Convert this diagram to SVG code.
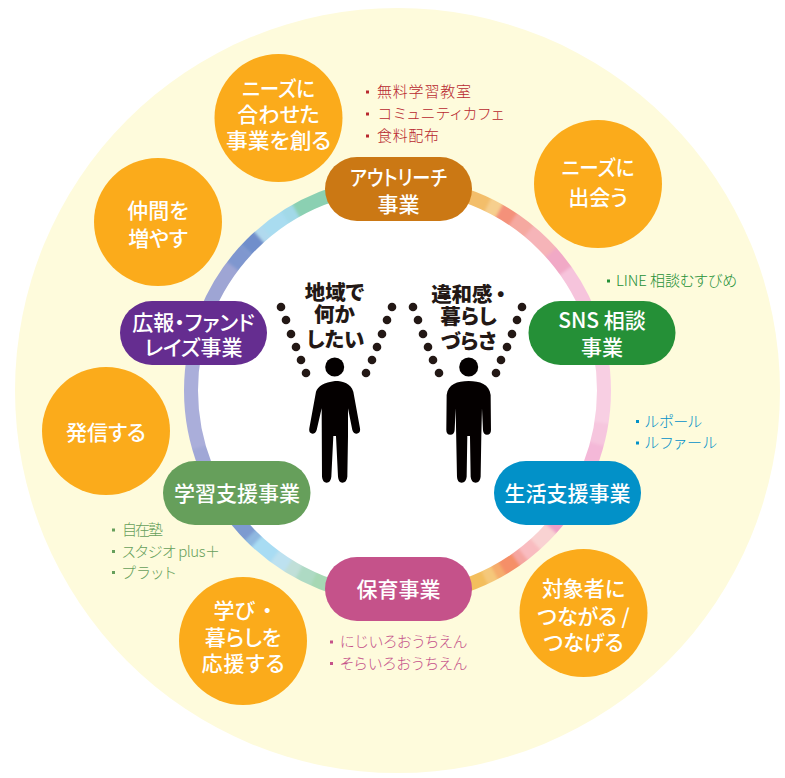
<svg xmlns="http://www.w3.org/2000/svg" width="785" height="778" viewBox="0 0 785 778">
<style>
text{font-family:"Noto Sans CJK JP","Noto Sans",sans-serif;font-feature-settings:"palt"}
.c{fill:#fbab1b}
.t{fill:#fff;font-size:21px;font-weight:500;text-anchor:middle}
.h{fill:#231815;font-size:20.5px;font-weight:900;text-anchor:middle}
.s{font-size:15px;font-weight:300}
.seg{fill:none;stroke-width:22}
.d{fill:#231815}
.red{fill:#b8282f}.grn{fill:#259037}.blu{fill:#0291c8}.lgn{fill:#669f5b}.pnk{fill:#c5528a}
</style>
<defs>
<mask id="ringMask" maskUnits="userSpaceOnUse" x="0" y="0" width="785" height="778"><circle cx="397.5" cy="390.5" r="206.5" fill="none" stroke="#fff" stroke-width="14"/></mask>
<filter id="soft" filterUnits="userSpaceOnUse" x="0" y="0" width="785" height="778"><feGaussianBlur stdDeviation="1.6"/></filter>
</defs>
<rect width="785" height="778" fill="#fff"/>
<circle cx="397.5" cy="390.5" r="382.5" fill="#fefbdc"/>
<circle cx="397.5" cy="390.5" r="200" fill="#fff"/>
<g id="connectors" mask="url(#ringMask)">
<g filter="url(#soft)">
<circle class="seg" cx="397.5" cy="390.5" r="206.5" pathLength="360" stroke-dasharray="27 333" stroke-dashoffset="-334" stroke="#f8cfe3"/>
<circle class="seg" cx="397.5" cy="390.5" r="206.5" pathLength="360" stroke-dasharray="10 350" stroke-dashoffset="0" stroke="#f8cfe3"/>
<circle class="seg" cx="397.5" cy="390.5" r="206.5" pathLength="360" stroke-dasharray="7 353" stroke-dashoffset="-9" stroke="#f6c6de"/>
<circle class="seg" cx="397.5" cy="390.5" r="206.5" pathLength="360" stroke-dasharray="28 332" stroke-dashoffset="-15" stroke="#f4b8d8"/>
<circle class="seg" cx="397.5" cy="390.5" r="206.5" pathLength="360" stroke-dasharray="4 356" stroke-dashoffset="-39" stroke="#ee9fc7"/>
<circle class="seg" cx="397.5" cy="390.5" r="206.5" pathLength="360" stroke-dasharray="6 354" stroke-dashoffset="-42" stroke="#f9d2d2"/>
<circle class="seg" cx="397.5" cy="390.5" r="206.5" pathLength="360" stroke-dasharray="5 355" stroke-dashoffset="-48" stroke="#f9bcc0"/>
<circle class="seg" cx="397.5" cy="390.5" r="206.5" pathLength="360" stroke-dasharray="3 357" stroke-dashoffset="-52.5" stroke="#f5a5a0"/>
<circle class="seg" cx="397.5" cy="390.5" r="206.5" pathLength="360" stroke-dasharray="5 355" stroke-dashoffset="-55" stroke="#f58f68"/>
<circle class="seg" cx="397.5" cy="390.5" r="206.5" pathLength="360" stroke-dasharray="3 357" stroke-dashoffset="-59.5" stroke="#f5ac6c"/>
<circle class="seg" cx="397.5" cy="390.5" r="206.5" pathLength="360" stroke-dasharray="4 356" stroke-dashoffset="-62" stroke="#f5c87a"/>
<circle class="seg" cx="397.5" cy="390.5" r="206.5" pathLength="360" stroke-dasharray="15 345" stroke-dashoffset="-65" stroke="#f3be5d"/>
<circle class="seg" cx="397.5" cy="390.5" r="206.5" pathLength="360" stroke-dasharray="15 345" stroke-dashoffset="-100" stroke="#a6d8b4"/>
<circle class="seg" cx="397.5" cy="390.5" r="206.5" pathLength="360" stroke-dasharray="5 355" stroke-dashoffset="-114" stroke="#aedac4"/>
<circle class="seg" cx="397.5" cy="390.5" r="206.5" pathLength="360" stroke-dasharray="4 356" stroke-dashoffset="-118.5" stroke="#c0dfd8"/>
<circle class="seg" cx="397.5" cy="390.5" r="206.5" pathLength="360" stroke-dasharray="5 355" stroke-dashoffset="-122" stroke="#bde1f0"/>
<circle class="seg" cx="397.5" cy="390.5" r="206.5" pathLength="360" stroke-dasharray="7 353" stroke-dashoffset="-126.5" stroke="#a8dcf3"/>
<circle class="seg" cx="397.5" cy="390.5" r="206.5" pathLength="360" stroke-dasharray="3 357" stroke-dashoffset="-133" stroke="#8fb8e0"/>
<circle class="seg" cx="397.5" cy="390.5" r="206.5" pathLength="360" stroke-dasharray="20 340" stroke-dashoffset="-135.5" stroke="#7d9ad0"/>
<circle class="seg" cx="397.5" cy="390.5" r="206.5" pathLength="360" stroke-dasharray="15 345" stroke-dashoffset="-152" stroke="#a0a7d6"/>
<circle class="seg" cx="397.5" cy="390.5" r="206.5" pathLength="360" stroke-dasharray="30 330" stroke-dashoffset="-164" stroke="#aaaeda"/>
<circle class="seg" cx="397.5" cy="390.5" r="206.5" pathLength="360" stroke-dasharray="26 334" stroke-dashoffset="-193" stroke="#9ea5d4"/>
<circle class="seg" cx="397.5" cy="390.5" r="206.5" pathLength="360" stroke-dasharray="6 354" stroke-dashoffset="-217" stroke="#7f97cf"/>
<circle class="seg" cx="397.5" cy="390.5" r="206.5" pathLength="360" stroke-dasharray="5 355" stroke-dashoffset="-223" stroke="#6f8ecb"/>
<circle class="seg" cx="397.5" cy="390.5" r="206.5" pathLength="360" stroke-dasharray="3 357" stroke-dashoffset="-228" stroke="#b0d9ee"/>
<circle class="seg" cx="397.5" cy="390.5" r="206.5" pathLength="360" stroke-dasharray="7 353" stroke-dashoffset="-230.5" stroke="#a9dcf0"/>
<circle class="seg" cx="397.5" cy="390.5" r="206.5" pathLength="360" stroke-dasharray="4 356" stroke-dashoffset="-237" stroke="#a2d9e8"/>
<circle class="seg" cx="397.5" cy="390.5" r="206.5" pathLength="360" stroke-dasharray="20 340" stroke-dashoffset="-240.5" stroke="#8bd0b2"/>
<circle class="seg" cx="397.5" cy="390.5" r="206.5" pathLength="360" stroke-dasharray="15 345" stroke-dashoffset="-282" stroke="#f3be6a"/>
<circle class="seg" cx="397.5" cy="390.5" r="206.5" pathLength="360" stroke-dasharray="4 356" stroke-dashoffset="-296" stroke="#f6cf8e"/>
<circle class="seg" cx="397.5" cy="390.5" r="206.5" pathLength="360" stroke-dasharray="5 355" stroke-dashoffset="-299.5" stroke="#f4917a"/>
<circle class="seg" cx="397.5" cy="390.5" r="206.5" pathLength="360" stroke-dasharray="6 354" stroke-dashoffset="-304" stroke="#f5a9a0"/>
<circle class="seg" cx="397.5" cy="390.5" r="206.5" pathLength="360" stroke-dasharray="9 351" stroke-dashoffset="-309.5" stroke="#f6b4b8"/>
<circle class="seg" cx="397.5" cy="390.5" r="206.5" pathLength="360" stroke-dasharray="7 353" stroke-dashoffset="-318" stroke="#f1a9c6"/>
<circle class="seg" cx="397.5" cy="390.5" r="206.5" pathLength="360" stroke-dasharray="12 348" stroke-dashoffset="-324.5" stroke="#f6c4dc"/>
</g>
</g>
<g id="need-adapt"><circle class="c" cx="278.5" cy="118" r="64"/><text class="t" x="278.5" y="95.5" textLength="73" lengthAdjust="spacingAndGlyphs">ニーズに</text><text class="t" x="278.5" y="122">合わせた</text><text class="t" x="278.5" y="148" textLength="105" lengthAdjust="spacingAndGlyphs">事業を創る</text></g>
<g id="need-meet"><circle class="c" cx="598" cy="184" r="64"/><text class="t" x="598" y="175" textLength="73" lengthAdjust="spacingAndGlyphs">ニーズに</text><text class="t" x="598" y="204.500">出会う</text></g>
<g id="increase"><circle class="c" cx="158" cy="222" r="64"/><text class="t" x="158" y="217.500">仲間を</text><text class="t" x="158" y="245.500">増やす</text></g>
<g id="send"><circle class="c" cx="106" cy="431" r="64"/><text class="t" x="106" y="439.500">発信する</text></g>
<g id="support"><circle class="c" cx="243" cy="641" r="64"/><text class="t" x="243" y="617.500">学び<tspan dx="7">・</tspan></text><text class="t" x="243" y="644.500">暮らしを</text><text class="t" x="243" y="670.500" textLength="83" lengthAdjust="spacing">応援する</text></g>
<g id="connect"><circle class="c" cx="583.5" cy="613" r="64"/><text class="t" x="583.500" y="595.500">対象者に</text><text class="t" x="583.500" y="623.500">つながる /</text><text class="t" x="583.500" y="649.500">つなげる</text></g>
<g id="outreach"><rect x="325" y="157" width="147" height="64" rx="32" fill="#cb7814"/><text class="t" x="398.500" y="185" textLength="97" lengthAdjust="spacingAndGlyphs">アウトリーチ</text><text class="t" x="398.500" y="212">事業</text></g>
<g id="sns"><rect x="528.500" y="301" width="147" height="64" rx="32" fill="#259037"/><text class="t" x="602" y="327.500">SNS 相談</text><text class="t" x="602" y="354.500">事業</text></g>
<g id="life"><rect x="494" y="461" width="147" height="64" rx="32" fill="#0291c8"/><text class="t" x="567.500" y="500.500">生活支援事業</text></g>
<g id="childcare"><rect x="325" y="557" width="147" height="64" rx="32" fill="#c5528a"/><text class="t" x="398.500" y="596.500">保育事業</text></g>
<g id="study"><rect x="163" y="461" width="147.500" height="64" rx="32" fill="#669f5b"/><text class="t" x="237" y="500.500">学習支援事業</text></g>
<g id="pr"><rect x="120" y="301" width="147" height="64" rx="32" fill="#652d90"/><text class="t" x="193.500" y="330">広報・ファンド</text><text class="t" x="193.500" y="355">レイズ事業</text></g>
<g id="list-outreach"><rect class="red" x="366" y="90.500" width="3" height="3"/><text class="s red" x="377" y="97" textLength="94">無料学習教室</text><rect class="red" x="366" y="112.500" width="3" height="3"/><text class="s red" x="378" y="119" textLength="126">コミュニティカフェ</text><rect class="red" x="366" y="134.500" width="3" height="3"/><text class="s red" x="377" y="141" textLength="62">食料配布</text></g>
<g id="list-sns"><rect class="grn" x="607" y="279.500" width="3" height="3"/><text class="s grn" x="616" y="286" textLength="121">LINE 相談むすびめ</text></g>
<g id="list-life"><rect class="blu" x="636" y="420" width="3" height="3"/><text class="s blu" x="645" y="427" textLength="57">ルポール</text><rect class="blu" x="636" y="441.500" width="3" height="3"/><text class="s blu" x="645" y="448" textLength="72">ルファール</text></g>
<g id="list-study"><rect class="lgn" x="112" y="528.500" width="3" height="3"/><text class="s lgn" x="122" y="535" textLength="41">自在塾</text><rect class="lgn" x="112" y="550" width="3" height="3"/><text class="s lgn" x="122" y="556.500" textLength="98">スタジオ plus＋</text><rect class="lgn" x="112" y="571" width="3" height="3"/><text class="s lgn" x="122" y="577.500" textLength="54">プラット</text></g>
<g id="list-childcare"><rect class="pnk" x="330" y="640.500" width="3" height="3"/><text class="s pnk" x="340" y="647" textLength="127">にじいろおうちえん</text><rect class="pnk" x="330" y="662" width="3" height="3"/><text class="s pnk" x="340" y="668.500" textLength="127">そらいろおうちえん</text></g>
<g id="person-left">
<text class="h" x="334.500" y="300">地域で</text><text class="h" x="334.500" y="322">何か</text><text class="h" x="335.500" y="347">したい</text>
<g class="d"><circle cx="281" cy="307" r="4.300"/><circle cx="286" cy="320" r="4.300"/><circle cx="291" cy="334" r="4.300"/><circle cx="296" cy="347" r="4.300"/><circle cx="301" cy="360" r="4.300"/><circle cx="306" cy="373" r="4.300"/><circle cx="392" cy="307" r="4.300"/><circle cx="387" cy="320" r="4.300"/><circle cx="382" cy="334" r="4.300"/><circle cx="377" cy="347" r="4.300"/><circle cx="372" cy="360" r="4.300"/><circle cx="366" cy="373" r="4.300"/></g>
<circle cx="334.700" cy="367" r="9.500" fill="#040000"/>
<path transform="translate(280 260) scale(.3333)" fill="#040000" d="M165 363C190 363 212 370 220 395L240 505Q243 520 230 521Q220 521 217 510L204 445L204 530L202 650Q200 668 187 668Q176 668 174 650L168 528L160 528L154 650Q152 668 140 668Q128 668 126 650L125 445L110 510Q107 521 97 521Q85 520 88 505L108 395Q116 370 165 363Z"/>
</g>
<g id="person-right">
<text class="h" x="468.500" y="302">違和感<tspan dx="3">・</tspan></text><text class="h" x="468.500" y="324">暮らし</text><text class="h" x="468.500" y="349">づらさ</text>
<g class="d"><circle cx="413" cy="307" r="4.300"/><circle cx="418" cy="320" r="4.300"/><circle cx="423" cy="334" r="4.300"/><circle cx="428" cy="347" r="4.300"/><circle cx="433" cy="360" r="4.300"/><circle cx="439" cy="373" r="4.300"/><circle cx="522" cy="307" r="4.300"/><circle cx="517" cy="320" r="4.300"/><circle cx="512" cy="334" r="4.300"/><circle cx="507" cy="347" r="4.300"/><circle cx="501" cy="360" r="4.300"/><circle cx="496" cy="373" r="4.300"/></g>
<circle cx="468.700" cy="367" r="9.500" fill="#040000"/>
<path transform="translate(280 260) scale(.3333)" fill="#040000" d="M566 363C600 363 628 372 632 405L633 510Q633 524 621 524Q610 524 609 510L606 445L604 528L602 650Q600 668 587 668Q574 668 572 650L570 528L562 528L560 650Q558 668 545 668Q532 668 531 650L527 445L524 510Q523 524 511 524Q499 524 499 510L500 405C504 372 532 363 566 363Z"/>
</g>
</svg>
